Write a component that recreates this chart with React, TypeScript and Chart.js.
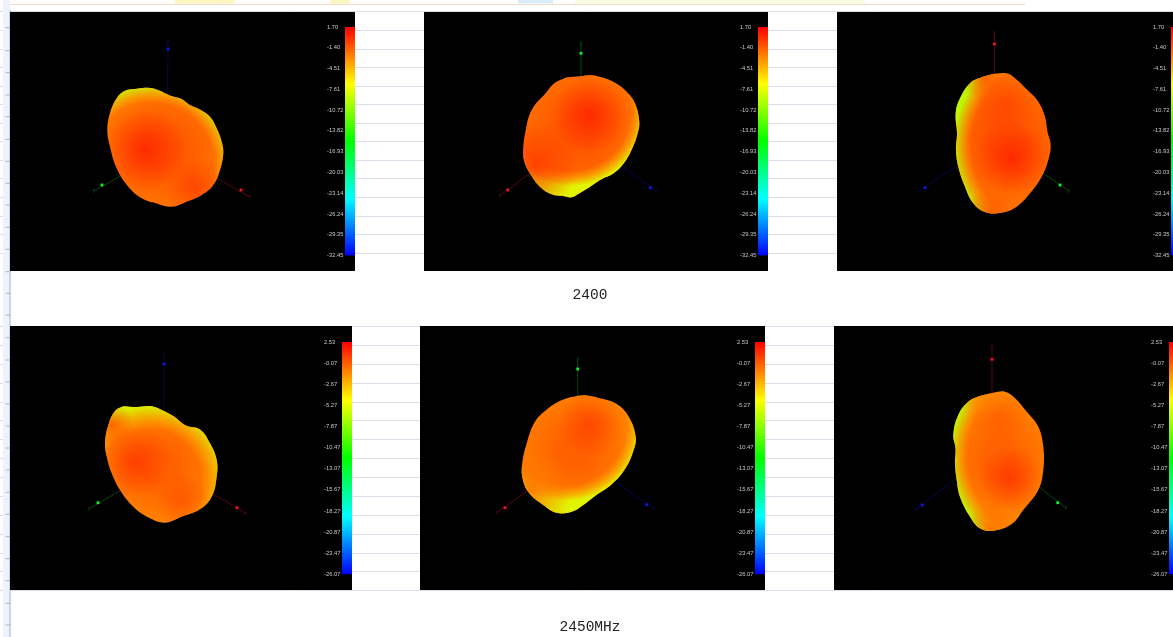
import React, { useEffect, useRef } from "react";
import { Chart, registerables } from "chart.js";

Chart.register(...registerables);

const PAGE_W = 1173;
const PAGE_H = 637;

// ---- captions and colour-bar ticks ----
const captionLabels = ["2400", "2450MHz"];
const captionX = [590, 590];
const captionY = [295, 627];
const ticks2400 = [1.7, -1.4, -4.51, -7.61, -10.72, -13.82, -16.93, -20.03, -23.14, -26.24, -29.35, -32.45];
const ticks2450 = [2.53, -0.07, -2.67, -5.27, -7.87, -10.47, -13.07, -15.67, -18.27, -20.87, -23.47, -26.07];

// ---- background sheet ----
const sheetRules = [12, 30.7, 49.3, 67.7, 86.3, 104.7, 123.3, 141.7, 160.3, 178.7, 197.3, 216, 234.7, 253.3,
  326, 345.3, 364.3, 383, 402, 420.7, 439.7, 458.3, 477.3, 496.3, 515.3, 534, 553, 571.7, 590];
const rulerTicks = [27.7, 50.7, 72.7, 95, 116.7, 139.3, 161.3, 183.3, 205, 227.3, 249.3, 271.7, 293.3, 315,
  337.7, 360, 382, 404, 426, 448, 470, 492.3, 514.3, 536.7, 558.7, 580.7, 603.3, 625];
const topStripStart = [175, 330, 518, 575];
const topStripEnd = [235, 350, 553, 865];

// ---- lobe outlines ----
const lobe2400A = [[136.7,88.7],[150,88],[160,90.7],[170,95.5],[181.7,99],[190,105],[200,109.5],[210,116.7],[216.7,128.3],[221.7,141.7],[223.3,153.3],[220,170],[213.3,185],[201.7,195],[186.7,201.7],[171.7,206.7],[156.7,203.5],[141.7,198.3],[128.3,186.7],[116.7,168.3],[110,146.7],[107.3,130],[110,113.3],[116.7,98.3],[125,90.7]];
const lobe2400B = [[566.7,77.3],[580,76.3],[590,75],[601.7,77.3],[615,82.7],[626.7,91.7],[635,103.3],[639.3,121.7],[637.5,134],[632,149],[624,163],[614,173],[600,180],[589,187.5],[578.3,194],[571.7,197.3],[563.3,196],[551.7,194.3],[540,186.7],[530,173.3],[524,160],[523.5,145],[526,129],[529,116],[535.5,104],[545,94],[554,83.5]];
const lobe2400C = [[993.3,74],[1006.7,73.3],[1015,78.3],[1026.7,89.3],[1038.3,101.7],[1045,116.7],[1047.5,131.7],[1050.7,145],[1048.3,160],[1041.7,176.7],[1030,193.3],[1016.7,206.7],[1001.7,212.7],[985,212],[973.3,203.3],[965,186.7],[958.3,166.7],[956,150],[957,133.3],[955.7,113.3],[960,98.3],[970,83.3],[981.7,77.3]];
const lobe2450A = [[123.3,406.2],[136.7,407],[151.7,406.3],[163.3,410.7],[173.3,416],[186,425.5],[200,429.5],[210,443.3],[216.7,460],[216.7,476.7],[211.7,496.7],[200,509.3],[181.7,516.7],[165,522.7],[150,518.3],[133.3,506.7],[120,490],[111.7,473.3],[107.5,460],[105,443.3],[109,423.3],[115.5,410.5]];
const lobe2450B = [[570,397.3],[583.3,395.3],[600,398.3],[616.7,404],[628.3,416],[635.7,436.7],[633,452],[625,469],[612,484],[595,496],[583.3,505],[571.7,511.7],[556.7,512.7],[543.3,505],[528.3,491.7],[522.3,476.7],[522.3,463.3],[526.7,443.3],[535,421.7],[548.3,408.3],[558.3,401.7]];
const lobe2450C = [[993.3,392.7],[1005,391.7],[1015,398.3],[1026.7,411.7],[1038.3,426.7],[1043.3,446.7],[1043.3,470],[1038.3,490],[1023.3,510],[1011.7,524],[993.3,530.7],[980,528.3],[970,516.7],[960,496.7],[956.7,480],[955,463.3],[955.5,448.3],[953.3,435],[958.3,415],[968.3,401.7],[980,396]];

// ---- axis triads: origin, marker, label position ----
const axisNames = [["z", "y", "x"], ["y", "x", "z"], ["x", "z", "y"]];
const origins = [[167,150],[581,135],[994,140],[164,465],[578,455],[992,450]];
const markers = [
  [[168,49],[102,185],[241,190]],
  [[581,53.3],[507.7,190],[650.3,187.7]],
  [[994.3,44],[925,187.7],[1060,185]],
  [[164,364],[98,502.7],[237,507.7]],
  [[577.7,369],[505,507.7],[646.7,504.7]],
  [[992,359.3],[922,505],[1057.7,502.7]],
];
const axisTips = [
  [[168,42],[94,191],[250,197]],
  [[581,42.3],[500,195.7],[656.7,191.7]],
  [[994.3,32.3],[918.3,191.7],[1068.7,190.7]],
  [[164,355],[89.3,508.7],[246,513.3]],
  [[577.7,358.3],[496.7,512.7],[654,508.7]],
  [[992,346.7],[916,509.3],[1066,508]],
];

// ---- layout + shading tables ----
const AXIS_STYLE: Record<string, { dim: string; bright: string }> = {
  x: { dim: "#640c10", bright: "#f0102a" },
  y: { dim: "#0a5812", bright: "#16e838" },
  z: { dim: "#080860", bright: "#1414e0" },
};
const tint = (r: number, g: number, a: number) => `rgba(${r},${g},0,${a})`;
type Layer = [number, number, number, number, string, string];
const soft = (x: number, y: number, r: number, g: number, a: number, rad: number): Layer => [x, y, 0, rad, tint(255, g, a), tint(255, g, 0)];
const panels: { left: number; top: number; width: number; height: number; lobe: number[][]; names: string[]; ticks: number[]; barTop: number; barBottom: number; shade: Layer[] }[] = [
  { left: 10, top: 12, width: 345, height: 259, lobe: lobe2400A, names: axisNames[0], ticks: ticks2400, barTop: 27, barBottom: 255.5, shade: [
    [165,150,15,80,"#ff5800","#ff8000"],
    [152,165,62,80,"rgba(255,190,0,0)","rgba(200,240,0,1)"],
    soft(145,150,255,32,.8,42),
    soft(195,188,255,40,.55,30),
  ] },
  { left: 424, top: 12, width: 344, height: 259, lobe: lobe2400B, names: axisNames[1], ticks: ticks2400, barTop: 27, barBottom: 255.5, shade: [
    [580,130,15,80,"#ff5400","#ff7c00"],
    [570,110,60,76,"rgba(255,170,0,0)","rgba(225,245,0,1)"],
    soft(590,115,255,32,.8,38),
    soft(535,165,255,60,.95,44),
  ] },
  { left: 837, top: 12, width: 344, height: 259, lobe: lobe2400C, names: axisNames[2], ticks: ticks2400, barTop: 27, barBottom: 255.5, shade: [
    [1005,140,15,80,"#ff5000","#ff7a00"],
    [1060,145,88,106,"rgba(255,170,0,0)","rgba(190,245,0,1)"],
    soft(1012,158,255,32,.8,36),
    soft(1005,105,255,60,.6,30),
    soft(985,78,255,90,.9,24),
    soft(990,214,255,90,.9,26),
  ] },
  { left: 10, top: 326, width: 342, height: 264, lobe: lobe2450A, names: axisNames[0], ticks: ticks2450, barTop: 342, barBottom: 574.3, shade: [
    [160,465,15,75,"#ff6000","#ff9000"],
    [150,482,52,76,"rgba(255,180,0,0)","rgba(215,240,0,1)"],
    soft(135,462,255,50,.75,36),
    soft(182,500,255,60,.5,28),
    soft(112,425,255,90,.9,22),
  ] },
  { left: 420, top: 326, width: 345, height: 264, lobe: lobe2450B, names: axisNames[1], ticks: ticks2450, barTop: 342, barBottom: 574.3, shade: [
    [575,450,15,75,"#ff6000","#ff8c00"],
    [565,425,60,76,"rgba(255,170,0,0)","rgba(225,245,0,1)"],
    soft(590,425,255,60,.75,32),
    soft(530,490,255,120,.95,42),
  ] },
  { left: 834, top: 326, width: 345, height: 264, lobe: lobe2450C, names: axisNames[2], ticks: ticks2450, barTop: 342, barBottom: 574.3, shade: [
    [1000,460,15,75,"#ff6200","#ff8e00"],
    [1056,455,88,105,"rgba(255,170,0,0)","rgba(190,245,0,1)"],
    soft(1010,478,255,50,.8,32),
    soft(1000,420,255,85,.6,30),
    soft(990,530,255,110,.9,26),
    soft(980,396,255,130,.8,22),
  ] },
];

const BAR_W = 10;
const LABEL_W = 18;

const captionPlugin = {
  id: "captions",
  afterDraw(chart: any) {
    const { ctx, scales } = chart;
    ctx.save();
    ctx.fillStyle = "#222";
    ctx.font = '14.5px "Liberation Mono"';
    ctx.textAlign = "center";
    ctx.textBaseline = "middle";
    captionLabels.forEach((t, i) => ctx.fillText(t, scales.x.getPixelForValue(captionX[i]), scales.y.getPixelForValue(captionY[i])));
    ctx.restore();
  },
};

const tipPlugin = {
  id: "tips",
  afterDraw(chart: any) {
    const { ctx, scales } = chart;
    const idx = chart.options.plugins.tips.index;
    ctx.save();
    ctx.font = '5px "Liberation Sans"';
    ctx.textAlign = "center";
    ctx.textBaseline = "middle";
    panels[idx].names.forEach((n, i) => {
      const p = axisTips[idx][i];
      ctx.fillStyle = AXIS_STYLE[n].dim;
      ctx.fillText(n, scales.x.getPixelForValue(p[0]), scales.y.getPixelForValue(p[1]));
    });
    ctx.restore();
  },
};

function sheetChart(canvas: HTMLCanvasElement) {
  const line = (pts: number[][], color: string, w: number) => ({
    data: pts.map(([x, y]) => ({ x, y })), showLine: true, borderColor: color, borderWidth: w, pointRadius: 0,
  });
  const stripColors = ["#fdf6c0", "#fdf6c0", "#d8effa", "#fcfadf"];
  return new Chart(canvas, {
    type: "scatter",
    data: {
      datasets: [
        {
          data: rulerTicks.map((y) => ({ x: 8, y })), pointStyle: "line", pointRadius: 2.5,
          pointBorderColor: "#a8b4d0", pointBorderWidth: 1, showLine: false,
        },
        line([[10, 10], [10, PAGE_H]], "#c6cee2", 1),
        line([[6.5, 0], [6.5, PAGE_H]], "#eef2fb", 7),
        line([[10, 4.5], [1025, 4.5]], "#f6dcc8", 1),
        ...topStripStart.map((s, i) => line([[s, 1.5], [topStripEnd[i], 1.5]], stripColors[i], 4)),
      ] as any,
    },
    options: {
      responsive: false, animation: false, events: [],
      layout: { padding: 0, autoPadding: false },
      plugins: { legend: { display: false }, tooltip: { enabled: false } },
      scales: {
        x: { type: "linear", min: 0, max: PAGE_W, display: false },
        y: {
          type: "linear", min: 0, max: PAGE_H, reverse: true,
          afterBuildTicks: (a: any) => { a.ticks = sheetRules.map((value) => ({ value })); },
          afterFit: (a: any) => { a.width = 0; },
          ticks: { display: false },
          border: { display: false },
          grid: { color: "#dcdde8", lineWidth: 1, drawTicks: false },
        },
      },
    } as any,
    plugins: [captionPlugin],
  });
}

function lobeChart(canvas: HTMLCanvasElement, idx: number) {
  const p = panels[idx];
  const points = [...p.lobe, p.lobe[0]].map(([x, y]) => ({ x, y }));
  const layers = p.shade.map((s, i) => ({
    data: points, showLine: true, tension: 0.4, borderWidth: 0, pointRadius: 0,
    fill: "shape", order: 50 - i,
    backgroundColor: (c: any) => {
      const { chart } = c;
      const sx = chart.scales.x, sy = chart.scales.y;
      if (!sx || !sy) return s[4];
      const X = sx.getPixelForValue(s[0]), Y = sy.getPixelForValue(s[1]);
      if (!Number.isFinite(X) || !Number.isFinite(Y)) return s[4];
      const g = chart.ctx.createRadialGradient(X, Y, s[2], X, Y, s[3]);
      g.addColorStop(0, s[4]);
      g.addColorStop(1, s[5]);
      return g;
    },
  }));
  const axes = p.names.flatMap((n, i) => [
    {
      data: [origins[idx], axisTips[idx][i]].map(([x, y]) => ({ x, y })), showLine: true,
      borderColor: AXIS_STYLE[n].dim, borderWidth: 0.8, pointRadius: 0, order: 100,
    },
    {
      data: [markers[idx][i]].map(([x, y]) => ({ x, y })), showLine: false, pointStyle: "rect",
      pointRadius: 2, pointBackgroundColor: AXIS_STYLE[n].bright, pointBorderWidth: 0, order: 99,
    },
  ]);
  return new Chart(canvas, {
    type: "scatter",
    data: { datasets: [...axes, ...layers] as any },
    options: {
      responsive: false, animation: false, events: [],
      layout: { padding: 0, autoPadding: false },
      plugins: { legend: { display: false }, tooltip: { enabled: false }, tips: { index: idx } },
      scales: {
        x: { type: "linear", min: p.left, max: p.left + p.width, display: false },
        y: { type: "linear", min: p.top, max: p.top + p.height, reverse: true, display: false },
      },
    } as any,
    plugins: [tipPlugin],
  });
}

function barChart(canvas: HTMLCanvasElement, idx: number) {
  const p = panels[idx];
  const hi = p.ticks[0], lo = p.ticks[p.ticks.length - 1];
  return new Chart(canvas, {
    type: "bar",
    data: {
      labels: ["dB"],
      datasets: [{
        data: [[lo, hi]], barPercentage: 1, categoryPercentage: 1, borderWidth: 0, borderSkipped: false,
        backgroundColor: (c: any) => {
          const a = c.chart.chartArea;
          if (!a || !Number.isFinite(a.top) || !Number.isFinite(a.bottom)) return "#ff0000";
          const g = c.chart.ctx.createLinearGradient(0, a.top, 0, a.bottom);
          ["#ff0000", "#ffff00", "#00ff00", "#00ffff", "#0000ff"].forEach((col, i) => g.addColorStop(i / 4, col));
          return g;
        },
      }] as any,
    },
    options: {
      responsive: false, animation: false, events: [],
      layout: { padding: { top: p.barTop - p.top, bottom: p.top + p.height - p.barBottom, left: 0, right: 0 }, autoPadding: false },
      plugins: { legend: { display: false }, tooltip: { enabled: false } },
      scales: {
        x: { display: false },
        y: {
          type: "linear", min: lo, max: hi,
          afterBuildTicks: (a: any) => { a.ticks = p.ticks.map((value) => ({ value })); },
          afterFit: (a: any) => { a.width = LABEL_W; },
          grid: { display: false, drawTicks: false },
          border: { display: false },
          ticks: {
            autoSkip: false, crossAlign: "far", padding: 0, color: "#c8c8c8",
            font: { family: '"Liberation Sans"', size: 5.8 },
            callback: (v: any) => Number(v).toFixed(2),
          },
        },
      },
    } as any,
  });
}

const fill: React.CSSProperties = { position: "absolute", display: "block", filter: "blur(0.5px)" };

export default function App() {
  const sheet = useRef<HTMLCanvasElement>(null);
  const lobes = useRef<(HTMLCanvasElement | null)[]>([]);
  const bars = useRef<(HTMLCanvasElement | null)[]>([]);

  useEffect(() => {
    const charts: Chart[] = [sheetChart(sheet.current!)];
    panels.forEach((_, i) => {
      charts.push(lobeChart(lobes.current[i]!, i));
      charts.push(barChart(bars.current[i]!, i));
    });
    return () => charts.forEach((c) => c.destroy());
  }, []);

  return (
    <div style={{ position: "fixed", left: 0, top: 0, width: PAGE_W, height: PAGE_H, overflow: "hidden", background: "#fff" }}>
      <canvas ref={sheet} width={PAGE_W} height={PAGE_H} style={{ ...fill, left: 0, top: 0, filter: "blur(0.3px)" }} />
      {panels.map((p, i) => (
        <React.Fragment key={i}>
          <canvas
            ref={(el) => { lobes.current[i] = el; }}
            width={p.width} height={p.height}
            style={{ ...fill, left: p.left, top: p.top, background: "#000" }}
          />
          <canvas
            ref={(el) => { bars.current[i] = el; }}
            width={LABEL_W + BAR_W} height={p.height}
            style={{ ...fill, left: p.left + p.width - BAR_W - LABEL_W, top: p.top }}
          />
        </React.Fragment>
      ))}
    </div>
  );
}
